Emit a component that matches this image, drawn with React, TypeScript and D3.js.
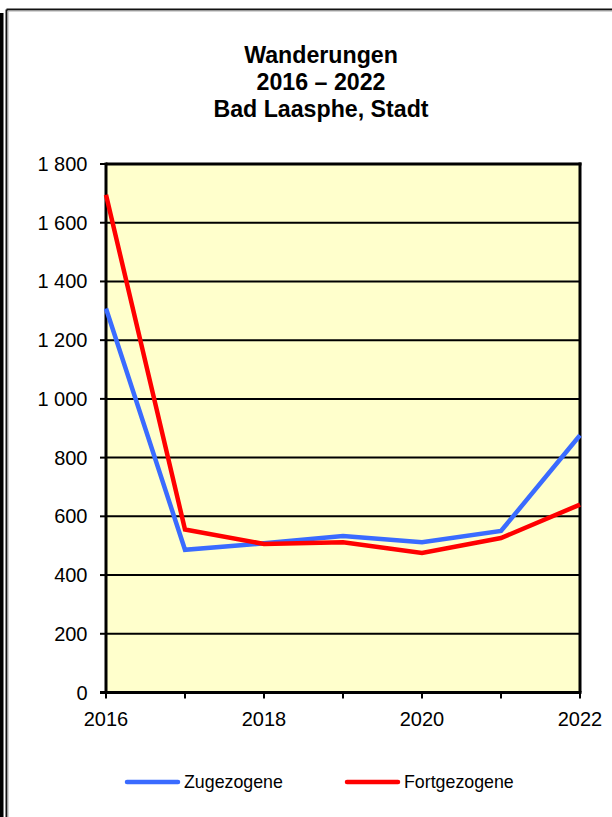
import React from "react";
import * as d3 from "d3";

const years = [2016, 2017, 2018, 2019, 2020, 2021, 2022];
const zugezogene = [1308, 486, 508, 533, 512, 550, 876];
const fortgezogene = [1695, 555, 506, 512, 475, 526, 640];
const yTicks = [0, 200, 400, 600, 800, 1000, 1200, 1400, 1600, 1800];
const xLabels = [2016, 2018, 2020, 2022];
const titleLines = ["Wanderungen", "2016 \u2013 2022", "Bad Laasphe, Stadt"];
const seriesNames = ["Zugezogene", "Fortgezogene"];
const colors = ["#3A6BFF", "#FF0000"];

const FONT = "'Liberation Sans', Arial, sans-serif";

export default function App() {
  const W = 612, H = 817;
  const left = 106, right = 580, top = 164, bottom = 692.5;
  const x = d3.scaleLinear().domain([2016, 2022]).range([left, right]);
  const y = d3.scaleLinear().domain([0, 1800]).range([bottom, top]);
  const fmt = (v: number) => d3.format(",")(v).replace(/,/g, " ");
  const line = d3
    .line<number>()
    .x((_, i) => x(years[i]))
    .y((d) => y(d));
  const series = [zugezogene, fortgezogene];

  return (
    <div style={{ position: "absolute", left: 0, top: 0 }}>
      <svg width={W} height={H} style={{ display: "block" }}>
        <rect x={0} y={0} width={W} height={H} fill="#fff" />
        {/* frame */}
        <rect x={0} y={13} width={3.5} height={H - 13} fill="#000" />
        <line x1={6.5} y1={9.5} x2={W} y2={9.5} stroke="#111" strokeWidth={2} />
        <line x1={6.5} y1={9.5} x2={6.5} y2={H} stroke="#111" strokeWidth={2} />
        <line x1={8} y1={11} x2={W} y2={11} stroke="#aaa" strokeWidth={1} />
        <line x1={8} y1={11} x2={8} y2={H} stroke="#aaa" strokeWidth={1} />

        {/* title */}
        {titleLines.map((t, i) => (
          <text
            key={i}
            x={321}
            y={63 + i * 27}
            textAnchor="middle"
            fontFamily={FONT}
            fontWeight="bold"
            fontSize={23.2}
            fill="#000"
          >
            {t}
          </text>
        ))}

        {/* plot area */}
        <rect x={left} y={top} width={right - left} height={bottom - top} fill="#FFFFCC" />
        {yTicks.map((v) => (
          <g key={v}>
            {v > 0 && (
              <line x1={left} x2={right} y1={y(v)} y2={y(v)} stroke="#000" strokeWidth={2} />
            )}
            <line x1={left - 6} x2={left} y1={y(v)} y2={y(v)} stroke="#000" strokeWidth={2} />
            <text
              x={87.5}
              y={y(v) + 7}
              textAnchor="end"
              fontFamily={FONT}
              fontSize={20}
              fill="#000"
            >
              {fmt(v)}
            </text>
          </g>
        ))}
        <line x1={right} x2={right} y1={top - 1.5} y2={bottom} stroke="#000" strokeWidth={3} />
        <line x1={left} x2={right + 1.5} y1={top} y2={top} stroke="#000" strokeWidth={3} />
        {years.map((yr) => (
          <line key={yr} x1={x(yr)} x2={x(yr)} y1={bottom} y2={bottom + 6} stroke="#000" strokeWidth={2} />
        ))}
        <line x1={left - 6} x2={right + 1.5} y1={bottom} y2={bottom} stroke="#000" strokeWidth={3} />
        <line x1={left} x2={left} y1={top - 1.5} y2={bottom + 1.5} stroke="#000" strokeWidth={3} />
        {xLabels.map((yr) => (
          <text
            key={yr}
            x={x(yr)}
            y={726}
            textAnchor="middle"
            fontFamily={FONT}
            fontSize={20}
            fill="#000"
          >
            {yr}
          </text>
        ))}

        {/* lines */}
        {series.map((s, i) => (
          <path
            key={i}
            d={line(s) || ""}
            fill="none"
            stroke={colors[i]}
            strokeWidth={4.5}
            strokeLinejoin="miter"
          />
        ))}

        {/* legend */}
        {seriesNames.map((n, i) => {
          const lx = i === 0 ? 127 : 347;
          return (
            <g key={n}>
              <line x1={lx} x2={lx + 51} y1={782} y2={782} stroke={colors[i]} strokeWidth={4.5} strokeLinecap="round" />
              <text x={lx + 57} y={788} fontFamily={FONT} fontSize={17.8} fill="#000">
                {n}
              </text>
            </g>
          );
        })}
      </svg>
    </div>
  );
}
